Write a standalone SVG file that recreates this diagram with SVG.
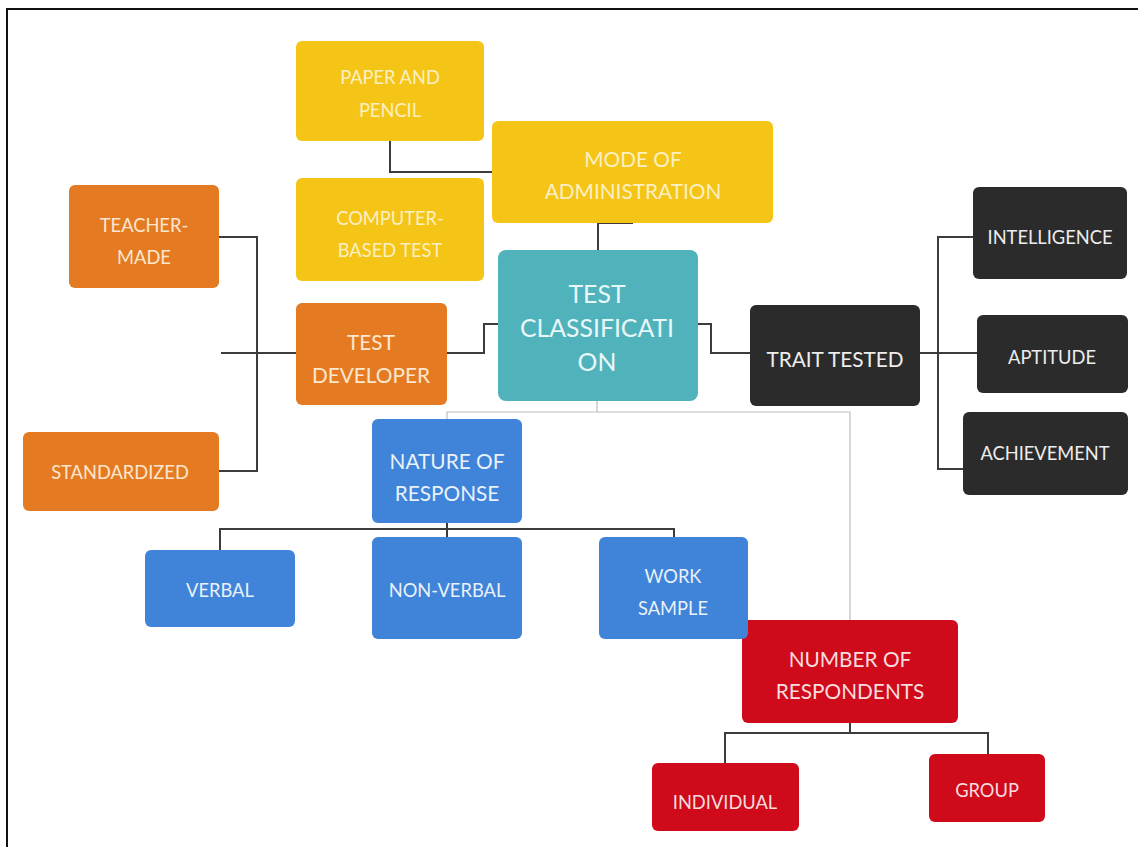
<svg xmlns="http://www.w3.org/2000/svg" width="1138" height="847" viewBox="0 0 1138 847">
<style>
text{font-family:Lato,"Open Sans","Liberation Sans",sans-serif;text-anchor:middle;dominant-baseline:central;}
.y rect{fill:#F4C517;} .y text{fill:#FCEFC2;font-size:18.3px;}
.o rect{fill:#E47B22;} .o text{fill:#FCE6CF;font-size:18.3px;}
.t rect{fill:#50B3BB;} .t text{fill:#EAF7F8;font-size:24.8px;}
.k rect{fill:#2B2B2B;} .k text{fill:#EDEDED;font-size:18.3px;}
.b rect{fill:#3F84D8;} .b text{fill:#E9F1FB;font-size:18.3px;}
.r rect{fill:#CE0A1B;} .r text{fill:#F8DCDE;font-size:18.3px;}
.big{font-size:20.8px !important;}
.c{fill:none;stroke:#3C3C3C;stroke-width:2;}
.l{fill:none;stroke:#BDBDBD;stroke-width:1.2;}
</style>
<rect x="7" y="9" width="1140" height="850" fill="#FFFFFF" stroke="#111" stroke-width="2"/>
<g id="connectors">
<path class="c" d="M390,141 V172 H492"/>
<path class="c" d="M633,223 H598 V252"/>
<path class="c" d="M219,237 H257 V471 H219"/>
<path class="c" d="M221,353 H296"/>
<path class="c" d="M447,353 H484 V324 H498"/>
<path class="c" d="M698,324 H711 V353 H750"/>
<path class="c" d="M920,353 H977"/>
<path class="c" d="M973,237 H938 V469 H963"/>
<path class="l" d="M597,401 V412"/>
<path class="l" d="M447,419 V412 H850 V620"/>
<path class="c" d="M447,523 V529"/>
<path class="c" d="M220,550 V529 H674 V537"/>
<path class="c" d="M447,529 V537"/>
<path class="c" d="M850,723 V733"/>
<path class="c" d="M725,763 V733 H988 V754"/>
</g>
<g id="paper-pencil" class="y"><rect x="296" y="41" width="188" height="100" rx="6"/><text x="390" y="77">PAPER AND</text><text x="390" y="110">PENCIL</text></g>
<g id="computer-based" class="y"><rect x="296" y="178" width="188" height="103" rx="6"/><text x="390" y="218">COMPUTER-</text><text x="390" y="250">BASED TEST</text></g>
<g id="mode" class="y"><rect x="492" y="121" width="281" height="102" rx="6"/><text class="big" x="633" y="158">MODE OF</text><text class="big" x="633" y="190">ADMINISTRATION</text></g>
<g id="teacher-made" class="o"><rect x="69" y="185" width="150" height="103" rx="6"/><text x="144" y="225">TEACHER-</text><text x="144" y="257">MADE</text></g>
<g id="test-developer" class="o"><rect x="296" y="303" width="151" height="102" rx="6"/><text class="big" x="371" y="341">TEST</text><text class="big" x="371" y="374">DEVELOPER</text></g>
<g id="standardized" class="o"><rect x="23" y="432" width="196" height="79" rx="6"/><text x="120" y="472">STANDARDIZED</text></g>
<g id="test-classification" class="t"><rect x="498" y="250" width="200" height="151" rx="8"/><text x="597" y="293">TEST</text><text x="597" y="327">CLASSIFICATI</text><text x="597" y="361">ON</text></g>
<g id="trait-tested" class="k"><rect x="750" y="305" width="170" height="101" rx="6"/><text class="big" x="835" y="358" style="font-size:21.3px">TRAIT TESTED</text></g>
<g id="intelligence" class="k"><rect x="973" y="187" width="154" height="92" rx="6"/><text x="1050" y="237">INTELLIGENCE</text></g>
<g id="aptitude" class="k"><rect x="977" y="315" width="151" height="78" rx="6"/><text x="1052" y="357">APTITUDE</text></g>
<g id="achievement" class="k"><rect x="963" y="412" width="165" height="83" rx="6"/><text x="1045" y="453">ACHIEVEMENT</text></g>
<g id="nature-of-response" class="b"><rect x="372" y="419" width="150" height="104" rx="6"/><text class="big" x="447" y="460">NATURE OF</text><text class="big" x="447" y="492">RESPONSE</text></g>
<g id="verbal" class="b"><rect x="145" y="550" width="150" height="77" rx="6"/><text x="220" y="590">VERBAL</text></g>
<g id="non-verbal" class="b"><rect x="372" y="537" width="150" height="102" rx="6"/><text x="447" y="590">NON-VERBAL</text></g>
<g id="number-of-respondents" class="r"><rect x="742" y="620" width="216" height="103" rx="6"/><text class="big" x="850" y="658">NUMBER OF</text><text class="big" x="850" y="690">RESPONDENTS</text></g>
<g id="work-sample" class="b"><rect x="599" y="537" width="149" height="102" rx="6"/><text x="673" y="576">WORK</text><text x="673" y="608">SAMPLE</text></g>
<g id="individual" class="r"><rect x="652" y="763" width="147" height="68" rx="6"/><text x="725" y="802">INDIVIDUAL</text></g>
<g id="group" class="r"><rect x="929" y="754" width="116" height="68" rx="6"/><text x="987" y="790">GROUP</text></g>
</svg>
